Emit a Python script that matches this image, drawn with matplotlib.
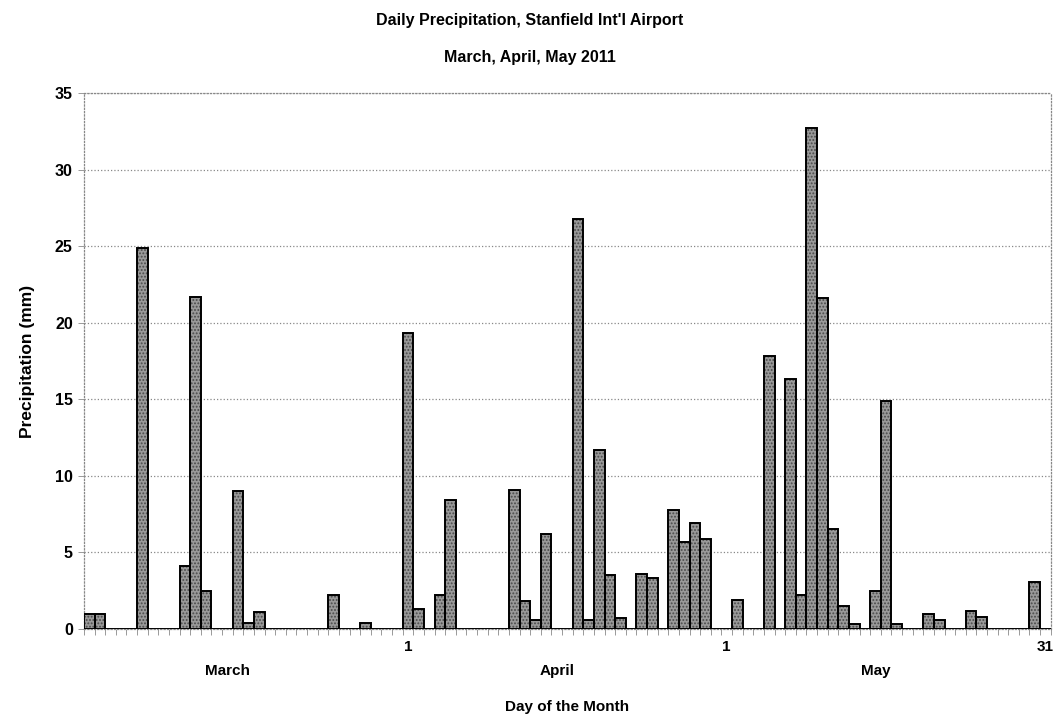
import numpy as np
import matplotlib.pyplot as plt

# daily precipitation (mm), 2 March .. 31 May 2011 -> 91 days
march = [1.0, 1.0, 0, 0, 0, 24.9, 0, 0, 0, 4.1, 21.7, 2.5, 0, 0, 9.0,
         0.4, 1.1, 0, 0, 0, 0, 0, 0, 2.2, 0, 0, 0.4, 0, 0, 0]
april = [19.3, 1.3, 0, 2.2, 8.4, 0, 0, 0, 0, 0, 9.1, 1.8, 0.6, 6.2, 0,
         0, 26.8, 0.6, 11.7, 3.5, 0.7, 0, 3.6, 3.3, 0, 7.8, 5.7, 6.9, 5.9, 0]
may = [0, 1.9, 0, 0, 17.8, 0, 16.3, 2.2, 32.7, 21.6, 6.5, 1.5, 0.3, 0,
       2.5, 14.9, 0.3, 0, 0, 1.0, 0.6, 0, 0, 1.2, 0.8, 0, 0, 0, 0, 3.1, 0]
precip = march + april + may

label_pos = [13, 30, 44, 60, 74, 90]
label_txt = ['\nMarch', '1', '\nApril', '1', '\nMay', '31']

plt.rcParams['font.family'] = ['Liberation Sans', 'DejaVu Sans']
plt.rcParams['font.weight'] = 'bold'
plt.rcParams['hatch.color'] = '#4a4a4a'
plt.rcParams['hatch.linewidth'] = 0.9

fig = plt.figure(figsize=(10.59, 7.15), dpi=100)
ax = fig.add_axes([0.0793, 0.1203, 0.9129, 0.7497])

x = np.arange(len(precip))
ax.bar(x, precip, width=1.0, color='#999999', hatch='.....', edgecolor='#4a4a4a',
       linewidth=0, zorder=3)
ax.bar(x, precip, width=1.0, fill=False, edgecolor='black', linewidth=1.4, zorder=4)

ax.set_xlim(-0.5, len(precip) - 0.5)
ax.set_ylim(0, 35)
ax.set_yticks(range(0, 36, 5))
ax.yaxis.grid(True, linestyle=':', color='#888888', linewidth=0.9)
ax.set_axisbelow(True)

ax.set_xticks(label_pos)
ax.set_xticklabels(label_txt, fontsize=11, fontweight='bold', linespacing=1.9)
ax.set_xticks(np.arange(-0.5, len(precip), 1.0), minor=True)
ax.tick_params(axis='x', which='major', length=0, pad=8)
ax.tick_params(axis='x', which='minor', length=4, color='#999999', width=0.7)
ax.tick_params(axis='y', length=4, color='#999999', width=0.7, labelsize=11.5, pad=4)

for s in ax.spines.values():
    s.set_linestyle(':')
    s.set_color('#888888')
    s.set_linewidth(0.9)

ax.set_ylabel('Precipitation (mm)', fontsize=12.5, fontweight='bold', labelpad=14)
ax.set_xlabel('Day of the Month', fontsize=11, fontweight='bold', labelpad=16)

fig.text(0.5, 0.972, "Daily Precipitation, Stanfield Int'l Airport", ha='center', va='center',
         fontsize=11.5, fontweight='bold')
fig.text(0.5, 0.920, 'March, April, May 2011', ha='center', va='center',
         fontsize=11.5, fontweight='bold')

fig.savefig('out.png', dpi=100)
